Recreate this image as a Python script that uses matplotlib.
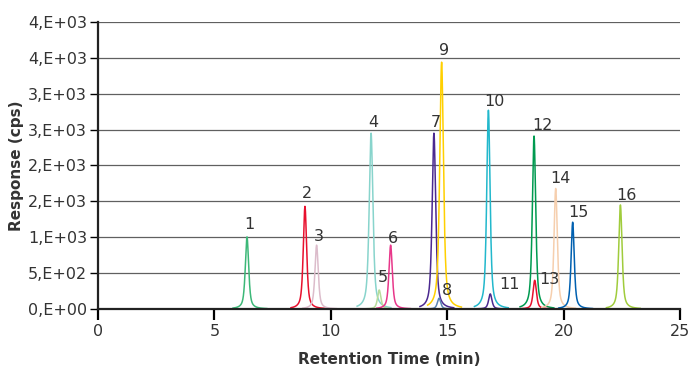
import numpy as np
import matplotlib
matplotlib.use("Agg")
import matplotlib.pyplot as plt
from matplotlib.ticker import FuncFormatter, MultipleLocator
import math

# ---- data ----
peak_ids = ["1", "2", "3", "4", "5", "6", "7", "8", "9", "10", "11", "12", "13", "14", "15", "16"]
retention_times = [6.40, 8.89, 9.39, 11.73, 12.08, 12.57, 14.43, 14.65, 14.76, 16.77, 16.85, 18.73, 18.76, 19.66, 20.39, 22.44]
peak_heights = [1005, 1430, 890, 2450, 265, 890, 2450, 150, 3440, 2770, 210, 2410, 400, 1680, 1210, 1450]
peak_hwhm = [0.085, 0.085, 0.085, 0.095, 0.085, 0.085, 0.09, 0.085, 0.095, 0.085, 0.085, 0.085, 0.085, 0.085, 0.08, 0.085]

# ---- styles ----
colors = ["#3cb878", "#e8102e", "#dcbccb", "#88d4cc", "#b8dc9c", "#e8378a", "#4b2990",
          "#5b84b4", "#ffd000", "#22b8cc", "#4b2990", "#009a50", "#e8102e", "#f6cfae",
          "#0060b0", "#a0cc3c"]
# label offsets from peak tops, in pixels (dx, dy up)
label_off = [(2, 12), (2, 13), (2, 9), (2, 11), (4, 12), (2, 7), (2, 11), (8, 8), (2, 12),
             (6, 9), (19, 9), (8, 11), (15, 1), (5, 10), (6, 10), (6, 9)]

fig = plt.figure(figsize=(6.91, 3.71), dpi=100)
ax = fig.add_axes([98 / 691, 1 - 309 / 371, 582 / 691, 287 / 371])

def peak(x, rt, h, w):
    d = (x - rt) / w
    lor = 1.0 / (1.0 + d ** 2)
    gau = np.exp(-np.log(2) * d ** 2)
    return h * (0.65 * lor + 0.35 * gau)

for i, (rt, h, w) in enumerate(zip(retention_times, peak_heights, peak_hwhm)):
    x = np.linspace(rt - 0.6, rt + 0.85, 400)
    y = peak(x, rt, h, w)
    ax.plot(x, y, color=colors[i], lw=1.1, zorder=3)
    dx, dy = label_off[i]
    ax.annotate(peak_ids[i], xy=(rt, h), xytext=(dx, dy), textcoords="offset pixels",
                ha="center", va="center", fontsize=11.5, color="#333333", zorder=4)

ax.set_xlim(0, 25)
ax.set_ylim(0, 4000)
ax.xaxis.set_major_locator(MultipleLocator(5))
ax.yaxis.set_major_locator(MultipleLocator(500))

def sci_fmt(v, pos):
    if v == 0:
        return "0,E+00"
    e = int(math.floor(math.log10(abs(v))))
    m = int(math.floor(v / 10 ** e + 0.5))
    if m >= 10:
        m //= 10
        e += 1
    return f"{m},E+{e:02d}"

ax.yaxis.set_major_formatter(FuncFormatter(sci_fmt))
ax.grid(axis="y", color="#606060", lw=0.9, zorder=1)
ax.set_axisbelow(True)
for s in ["top", "right"]:
    ax.spines[s].set_visible(False)
for s in ["left", "bottom"]:
    ax.spines[s].set_linewidth(1.6)
    ax.spines[s].set_color("#222222")
    ax.spines[s].set_zorder(5)
ax.tick_params(axis="x", direction="out", length=8, width=1.6, labelsize=11.5,
               labelcolor="#333333", pad=3)
ax.tick_params(axis="y", direction="out", length=6, width=1.0, labelsize=11.5,
               labelcolor="#333333", pad=2)
ax.set_xlabel("Retention Time (min)", fontsize=11, fontweight="bold", color="#333333", labelpad=9)
ax.set_ylabel("Response (cps)", fontsize=11, fontweight="bold", color="#333333", labelpad=3)

fig.savefig("out.png", dpi=100)
